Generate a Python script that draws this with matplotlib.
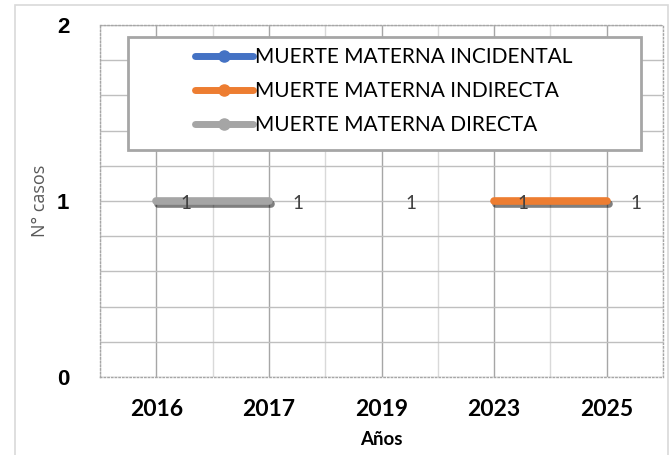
import numpy as np
import matplotlib
matplotlib.use("Agg")
import matplotlib.pyplot as plt
import matplotlib.patheffects as pe
from matplotlib.lines import Line2D
from matplotlib.patches import Rectangle

years = ["2016", "2017", "2019", "2023", "2025"]
incidental = [np.nan, np.nan, 1, np.nan, np.nan]
indirecta = [np.nan, np.nan, np.nan, 1, 1]
directa = [1, 1, np.nan, np.nan, np.nan]

series = [
    ("MUERTE MATERNA INCIDENTAL", incidental, "#4472c4"),
    ("MUERTE MATERNA INDIRECTA", indirecta, "#ed7d31"),
    ("MUERTE MATERNA DIRECTA", directa, "#a5a5a5"),
]

fig = plt.figure(figsize=(6.69, 4.55), dpi=100)
ax = fig.add_axes([100 / 669, 1 - 377 / 455, 563 / 669, 352 / 455])

# outer chart frame
fig.patches.append(Rectangle((15 / 669, -0.01), 653 / 669, 1 - 5 / 455 + 0.01,
                             transform=fig.transFigure, fill=False,
                             edgecolor="#d9d9d9", linewidth=1.2))

x = np.arange(len(years))
shadow = [pe.SimpleLineShadow(offset=(1.5, -2.5), shadow_color="black", alpha=0.5), pe.Normal()]
for name, vals, color in series:
    ax.plot(x, vals, color=color, linewidth=5.5, solid_capstyle="round",
            path_effects=shadow, zorder=3)

# data labels
for name, vals, color in series:
    for xi, v in zip(x, vals):
        if not np.isnan(v):
            ax.annotate(f"{int(v)}", (xi, v), xytext=(21, -2), textcoords="offset points",
                        ha="center", va="center", fontsize=13.5, color="#404040",
                        family="Lato", zorder=4)

ax.set_xlim(-0.5, len(years) - 0.5)
ax.set_ylim(0, 2)
ax.set_xticks(x)
ax.set_xticks(np.arange(-0.5, len(years), 1), minor=True)
ax.set_xticklabels(years, fontsize=16.5, fontweight="bold", family="Lato")
ax.set_yticks([0, 1, 2])
ax.set_yticks(np.arange(0, 2.01, 0.2), minor=True)
ax.set_yticklabels(["0", "1", "2"], fontsize=16, fontweight="bold", family="Liberation Sans")
ax.tick_params(axis="both", which="both", length=0)
ax.tick_params(axis="x", pad=16)
ax.tick_params(axis="y", pad=22)

ax.grid(axis="x", which="major", color="#a6a6a6", linewidth=1)
ax.grid(axis="x", which="minor", color="#d9d9d9", linewidth=1)
ax.grid(axis="y", which="both", color="#bfbfbf", linewidth=1)
ax.set_axisbelow(True)
for sp in ax.spines.values():
    sp.set_linestyle(":")
    sp.set_color("#a6a6a6")
    sp.set_linewidth(1)

ax.set_xlabel("Años", fontsize=13.5, fontweight="bold", family="Lato", labelpad=8)
ax.set_ylabel("N° casos", fontsize=13, color="#595959", family="Open Sans", labelpad=6)

# legend box
ax.add_patch(Rectangle((28 / 563, 227 / 352), 513 / 563, 113 / 352, transform=ax.transAxes,
                       facecolor="white", edgecolor="#a6a6a6", linewidth=2, zorder=5))
handles = [Line2D([0], [0], color=c, linewidth=5, marker="o", markersize=8,
                  solid_capstyle="round") for _, _, c in series]
leg = ax.legend(handles, [s[0] for s in series], loc="center",
                bbox_to_anchor=(284 / 563, (377 - 91) / 352),
                frameon=False, prop={"family": "Lato", "size": 15},
                handlelength=2.8, handletextpad=0.1, labelspacing=0.68)
leg.set_zorder(6)

fig.savefig("out.png", dpi=100)
